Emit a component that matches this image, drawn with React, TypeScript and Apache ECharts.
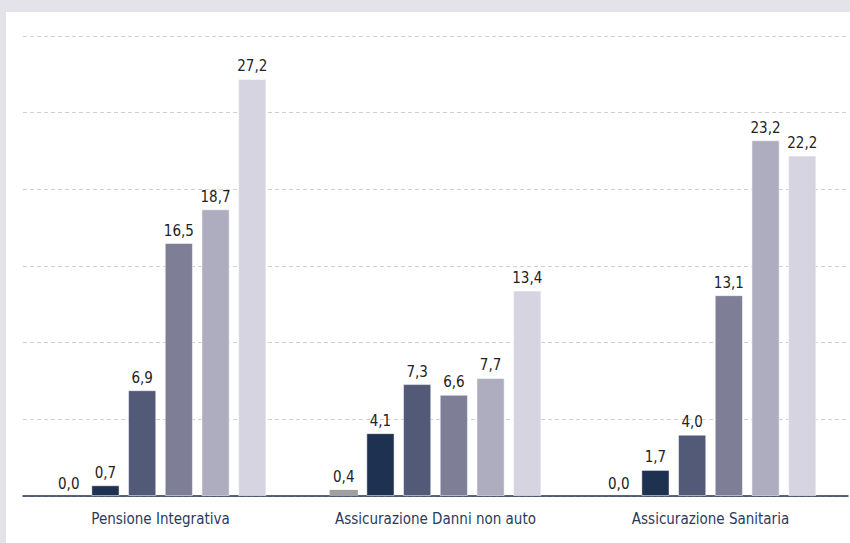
import React, { useEffect, useRef } from "react";
import * as echarts from "echarts";

const categories = ["Pensione Integrativa", "Assicurazione Danni non auto", "Assicurazione Sanitaria"];
const series1 = [0.0, 0.4, 0.0];
const series2 = [0.7, 4.1, 1.7];
const series3 = [6.9, 7.3, 4.0];
const series4 = [16.5, 6.6, 13.1];
const series5 = [18.7, 7.7, 23.2];
const series6 = [27.2, 13.4, 22.2];
const allSeries = [series1, series2, series3, series4, series5, series6];
const colors = ["#a0a0a0", "#1e3150", "#535a78", "#7e7e96", "#adadbf", "#d5d4e0"];

const FONT = "'DejaVu Sans Condensed', 'Noto Sans', sans-serif";

export default function App() {
  const ref = useRef<HTMLDivElement>(null);
  useEffect(() => {
    if (!ref.current) return;
    const chart = echarts.init(ref.current, null, { renderer: "svg" });
    chart.setOption({
      animation: false,
      backgroundColor: "#ffffff",
      grid: { left: 17, right: 2, top: 24, bottom: 47, containLabel: false },
      xAxis: {
        type: "category",
        data: categories,
        axisLine: { show: true, lineStyle: { color: "#1e3150", width: 1.5 } },
        axisTick: { show: false },
        axisLabel: {
          interval: 0,
          margin: 15,
          fontSize: 15,
          color: "#2b3a5c",
          fontFamily: FONT,
        },
      },
      yAxis: {
        type: "value",
        min: 0,
        max: 30,
        interval: 5,
        axisLabel: { show: false },
        axisLine: { show: false },
        axisTick: { show: false },
        splitLine: { show: true, lineStyle: { color: "#d0d0d0", type: [4, 3], width: 1 } },
      },
      series: allSeries.map((d, i) => ({
        type: "bar",
        data: d,
        barCategoryGap: "23%",
        barGap: "30%",
        itemStyle: {
          color: colors[i],
          borderColor: "rgba(255,255,255,0.5)",
          borderWidth: i === 0 ? 0 : 1,
        },
        label: {
          show: true,
          position: "top",
          distance: 5,
          fontSize: 15,
          color: "#222222",
          fontFamily: FONT,
          formatter: (p: any) => Number(p.value).toFixed(1).replace(".", ","),
        },
      })),
    });
    return () => chart.dispose();
  }, []);
  return (
    <div style={{ position: "fixed", left: 0, top: 0, width: 850, height: 543, background: "#e4e3e9" }}>
      <div ref={ref} style={{ position: "absolute", left: 6, top: 12, width: 844, height: 531 }} />
    </div>
  );
}
